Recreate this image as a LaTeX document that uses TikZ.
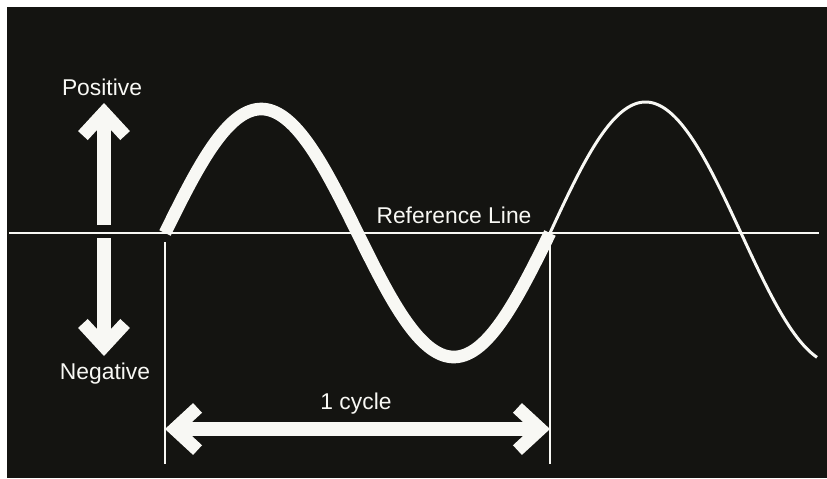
\documentclass[tikz,border=0pt]{standalone}
\usepackage{fontspec}
\setmainfont{Liberation Sans}
\usetikzlibrary{arrows.meta}
\usetikzlibrary{positioning}
\definecolor{board}{RGB}{20,20,17}
\definecolor{chalk}{RGB}{248,248,244}
\tikzset{
lbl/.style = {text=chalk, font=\fontsize{13}{15}\selectfont, inner sep=0pt},
rule/.style = {draw=chalk, line width=#1},
rule/.default = 1pt, % thin white lines
bigarrow/.style = {draw=chalk, line width=7.5pt}
}
\newcommand{\wave}[5]{\draw[#1] plot[domain=#2:#3, samples=150, smooth] (\x, {233-#4*sin((\x-#2)/#5*360)});}
\newcommand{\pinpt}[3]{\coordinate (#1) at (#2,#3);}

\begin{document}
\begin{tikzpicture}[x=0.02cm, y=-0.02cm,
    >={Straight Barb[length=13pt, width=24pt, sharp]}]
    \useasboundingbox (0,0) rectangle (827,478);
    \fill[white] (0,0) rectangle (827,478);
    \fill[board] (7,7) rectangle (827,478);

    \pinpt{refL}{9}{233};
    \pinpt{refR}{819}{233};
    \pinpt{upB}{104}{225};
    \pinpt{upT}{104}{103};
    \pinpt{dnT}{104}{238};
    \pinpt{dnB}{104}{356};
    \pinpt{startT}{165}{242};
    \pinpt{startB}{165}{464};
    \pinpt{endT}{550}{242};
    \pinpt{endB}{550}{464};
    \pinpt{cycL}{165}{429};
    \pinpt{cycR}{550}{429};

    \draw[rule=1.2pt] (refL) -- (refR);
    \draw[rule=0.9pt] (startT) -- (startB);
    \draw[rule=0.9pt] (endT) -- (endB);

    \wave{rule=7.2pt}{165}{550}{124}{385};
    \wave{rule=1.7pt}{550}{817}{131}{382};

    \draw[bigarrow, ->] (upB) -- (upT);
    \draw[bigarrow, ->] (dnT) -- (dnB);
    \draw[bigarrow, <->] (cycL) -- (cycR);

    \node[lbl] (pos) at (102,87) {Positive};
    \node[lbl] (neg) at (105,374) {Negative};
    \node[lbl] (refl) at (454,215) {Reference Line};
    \node[lbl] (cyc) at (356,404) {1 cycle};
\end{tikzpicture}
\end{document}
